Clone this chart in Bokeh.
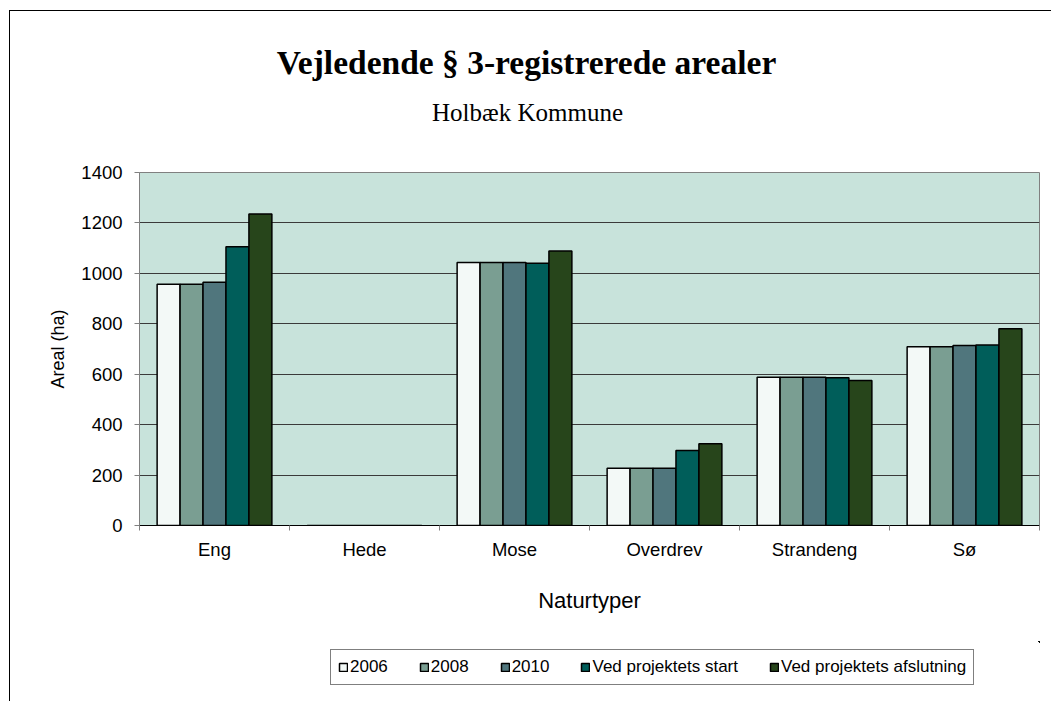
from bokeh.plotting import figure
from bokeh.layouts import column
from bokeh.models import (ColumnDataSource, FixedTicker, Legend, LegendItem, Label)
from bokeh.embed import file_html
from bokeh.resources import INLINE

categories = ["Eng", "Hede", "Mose", "Overdrev", "Strandeng", "Sø"]
series = ["2006", "2008", "2010", "Ved projektets start", "Ved projektets afslutning"]
v2006 = [957, 0, 1043, 227, 588, 709]
v2008 = [957, 0, 1043, 227, 588, 709]
v2010 = [965, 0, 1043, 227, 588, 714]
v_start = [1106, 0, 1040, 297, 586, 716]
v_end = [1235, 0, 1089, 324, 575, 780]
colors = ["#f3f9f7", "#7a9e92", "#50767d", "#005e5a", "#27451b"]
y_ticks = [0, 200, 400, 600, 800, 1000, 1200, 1400]
title_text = "Vejledende § 3-registrerede arealer"
subtitle_text = "Holbæk Kommune"

values = [v2006, v2008, v2010, v_start, v_end]
W = 1041

# ---- title strip ----
p0 = figure(width=W, height=150, x_range=(0, 1), y_range=(0, 1),
            output_backend="svg", toolbar_location=None,
            min_border_left=129, min_border_right=12, min_border_top=0, min_border_bottom=0)
p0.axis.visible = False
p0.grid.visible = False
p0.outline_line_color = None
p0.background_fill_color = "white"
p0.border_fill_color = "white"
p0.add_layout(Label(x=387, y=99, x_units="screen", y_units="screen", text=title_text,
                    text_align="center", text_baseline="middle",
                    text_font="Liberation Serif", text_font_size="33.5px",
                    text_font_style="bold", text_color="black"))
p0.add_layout(Label(x=388, y=49, x_units="screen", y_units="screen", text=subtitle_text,
                    text_align="center", text_baseline="middle",
                    text_font="Liberation Serif", text_font_size="25px",
                    text_color="black"))

# ---- main chart ----
p = figure(width=W, height=480, x_range=(0, len(categories)), y_range=(0, 1400),
           output_backend="svg", toolbar_location=None,
           min_border_left=129, min_border_right=12, min_border_top=11, min_border_bottom=116)
p.background_fill_color = "#c8e3db"
p.border_fill_color = "white"
p.outline_line_color = "#808080"

bw = 0.153
offsets = [-2 * bw, -bw, 0, bw, 2 * bw]
sources = []
for s, vals, c, off in zip(series, values, colors, offsets):
    src = ColumnDataSource(dict(x=[i + 0.5 + off for i in range(len(categories))], top=vals))
    sources.append(src)
    p.vbar(x="x", top="top", bottom=0, width=bw, source=src, fill_color=c,
           line_color="black", line_width=1.5)

xa = p.xaxis[0]
xa.ticker = FixedTicker(ticks=[i + 0.5 for i in range(len(categories))],
                        minor_ticks=list(range(len(categories) + 1)))
xa.major_label_overrides = {i + 0.5: c for i, c in enumerate(categories)}
xa.major_tick_out = 0
xa.major_tick_in = 0
xa.minor_tick_out = 5
xa.minor_tick_in = 0
xa.major_label_standoff = 8
xa.axis_label = "Naturtyper"
xa.axis_label_standoff = 25
xa.axis_line_color = "black"
xa.minor_tick_line_color = "#808080"

ya = p.yaxis[0]
ya.ticker = FixedTicker(ticks=y_ticks, minor_ticks=[])
ya.major_tick_out = 5
ya.major_tick_in = 0
ya.minor_tick_line_color = None
ya.major_label_standoff = 12
ya.axis_label = "Areal (ha)"
ya.axis_label_standoff = 10
ya.axis_line_color = "#808080"
ya.major_tick_line_color = "#808080"

for ax in (xa, ya):
    ax.major_label_text_font = "Liberation Sans"
    ax.major_label_text_font_size = "18.5px"
    ax.major_label_text_color = "black"
    ax.axis_label_text_font = "Liberation Sans"
    ax.axis_label_text_font_style = "normal"
    ax.axis_label_text_color = "black"
xa.axis_label_text_font_size = "22px"
ya.axis_label_text_font_size = "18px"

p.xgrid.grid_line_color = None
p.ygrid.grid_line_color = "#3a3a3a"
p.ygrid.grid_line_width = 1
p.ygrid.ticker = FixedTicker(ticks=y_ticks)

# ---- legend strip (legend glyphs share the series' sources; ranges keep them out of view) ----
p2 = figure(width=W, height=60, x_range=(-106, -100), y_range=(-2, -1),
            output_backend="svg", toolbar_location=None,
            min_border_left=129, min_border_right=12, min_border_top=0, min_border_bottom=0)
p2.axis.visible = False
p2.grid.visible = False
p2.outline_line_color = None
p2.background_fill_color = "white"
p2.border_fill_color = "white"
items = []
for s, src, c in zip(series, sources, colors):
    r = p2.vbar(x="x", top="top", bottom=0, width=bw, source=src, fill_color=c,
                line_color="black", line_width=1.5)
    items.append(LegendItem(label=s, renderers=[r]))
legend = Legend(items=items, orientation="horizontal", location=(191, 16),
                glyph_width=10, glyph_height=10, label_standoff=2, spacing=31,
                padding=7, margin=0, label_height=16,
                label_text_font="Liberation Sans", label_text_font_size="17px",
                label_text_color="black",
                border_line_color="black", border_line_width=1.2,
                background_fill_color="white", background_fill_alpha=1)
p2.add_layout(legend, "center")

layout = column(p0, p, p2, spacing=0,
                styles={"margin-left": "9px", "margin-top": "10px",
                        "border-left": "1.5px solid black", "border-top": "1.5px solid black"})

open("out.html", "w").write(file_html(layout, INLINE))
